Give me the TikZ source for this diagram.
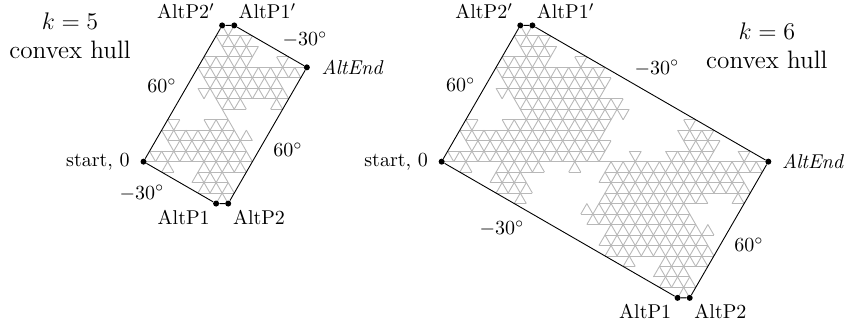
\documentclass[tikz,border=0pt]{standalone}
\usetikzlibrary{positioning}
\tikzset{curveseg/.style={draw=black!28,line width=0.45pt},
  hull/.style={draw,line width=0.45pt},
  dot/.style={circle,fill,inner sep=0pt,minimum size=3pt},
  tag/.style={inner sep=0pt},
  angletag/.style={inner sep=0pt},
  title/.style={align=center,font=\fontsize{12.6}{14.5}\selectfont,inner sep=0pt},
}
% level, direction
\newcommand{\altcurve}[2]{%
  \ifnum#1=0\relax
    \draw[curveseg] (pos) -- ++(#2:1) coordinate (pos);
  \else
    \begingroup
    \edef\curlevel{#1}\edef\curdir{#2}%
    \pgfmathtruncatemacro{\sublevel}{\curlevel-1}%
    \pgfmathtruncatemacro{\subdir}{\curdir+(isodd(\curlevel) ? 120 : -120)}%
    \altcurve{\sublevel}{\curdir}%
    \altcurve{\sublevel}{\subdir}%
    \altcurve{\sublevel}{\curdir}%
    \endgroup
  \fi}

\begin{document}
\begin{tikzpicture}[x=6.05pt,y=6.05pt]
  \path[use as bounding box] (0,0) rectangle (70.25,26.69);

  % k=5
  \begin{scope}[shift={(11.86,13.33)}]
    \coordinate (pos) at (0,0);
    \altcurve{5}{0}
    \node[dot] (startA) at (0,0) {};
    \node[dot] (altPoneA) at (6,-3.464) {};
    \node[dot] (altPtwoA) at (7,-3.464) {};
    \node[dot] (altEndA) at (13.5,7.794) {};
    \node[dot] (altPoneprimeA) at (7.5,11.258) {};
    \node[dot] (altPtwoprimeA) at (6.5,11.258) {};
    \draw[hull] (startA) -- (altPoneA) -- (altPtwoA) -- (altEndA)
      -- (altPoneprimeA) -- (altPtwoprimeA) -- (startA);
    \node[tag,left=5pt of startA] (startlabelA) {start, 0};
    \node[tag,below left=2pt and 1.8pt of altPoneA] (altPonelabelA) {AltP1};
    \node[tag,below right=2pt and 1pt of altPtwoA] (altPtwolabelA) {AltP2};
    \node[tag,right=5.5pt of altEndA] (altEndlabelA) {\textit{AltEnd}};
    \node[tag,above right=2pt and 0.8pt of altPoneprimeA] (altPoneprimelabelA) {AltP1$'$};
    \node[tag,above left=2pt and 2.3pt of altPtwoprimeA] (altPtwoprimelabelA) {AltP2$'$};
    \node[angletag] (angleaA) at (1.53,6.28) {$60^\circ$};
    \node[angletag] (anglebA) at (11.94,0.97) {$60^\circ$};
    \node[angletag] (anglecA) at (13.35,10.06) {$-30^\circ$};
    \node[angletag] (angledA) at (-0.12,-2.59) {$-30^\circ$};
    \node[title] (titleA) at (-6.07,10.43) {$k=5$\\convex hull};
  \end{scope}

  % k=6
  \begin{scope}[shift={(36.5,13.33)}]
    \coordinate (pos) at (0,0);
    \altcurve{6}{0}
    \node[dot] (startB) at (0,0) {};
    \node[dot] (altPoneB) at (19.5,-11.258) {};
    \node[dot] (altPtwoB) at (20.5,-11.258) {};
    \node[dot] (altEndB) at (27,0) {};
    \node[dot] (altPoneprimeB) at (7.5,11.258) {};
    \node[dot] (altPtwoprimeB) at (6.5,11.258) {};
    \draw[hull] (startB) -- (altPoneB) -- (altPtwoB) -- (altEndB)
      -- (altPoneprimeB) -- (altPtwoprimeB) -- (startB);
    \node[tag,left=5pt of startB] (startlabelB) {start, 0};
    \node[tag,below left=2pt and 1.8pt of altPoneB] (altPonelabelB) {AltP1};
    \node[tag,below right=2pt and 1pt of altPtwoB] (altPtwolabelB) {AltP2};
    \node[tag,right=5pt of altEndB] (altEndlabelB) {\textit{AltEnd}};
    \node[tag,above right=2pt and 0.8pt of altPoneprimeB] (altPoneprimelabelB) {AltP1$'$};
    \node[tag,above left=2pt and 2.3pt of altPtwoprimeB] (altPtwoprimelabelB) {AltP2$'$};
    \node[angletag] (angleaB) at (1.57,6.34) {$60^\circ$};
    \node[angletag] (anglebB) at (25.4,-6.86) {$60^\circ$};
    \node[angletag] (anglecB) at (17.79,7.74) {$-30^\circ$};
    \node[angletag] (angledB) at (4.98,-5.56) {$-30^\circ$};
    \node[title] (titleB) at (26.88,9.6) {$k=6$\\convex hull};
  \end{scope}
\end{tikzpicture}
\end{document}
